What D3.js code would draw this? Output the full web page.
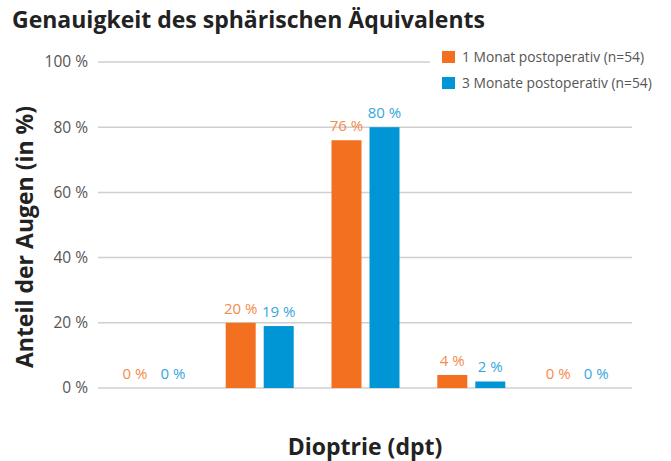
<!DOCTYPE html>
<html>
<head>
<meta charset="utf-8">
<script src="https://d3js.org/d3.v7.min.js"></script>
<style>
  body { margin: 0; background: #fff; }
  #chart text { font-family: 'Open Sans', sans-serif; }
  .grid line { stroke: #cfcfcf; stroke-width: 1.5; }
  .y.axis text { fill: #555; font-size: 15.5px; }
  .axis-title { font-weight: bold; fill: #222; font-size: 23px; }
  .title { font-weight: bold; fill: #222; font-size: 23px; }
  .legend text { fill: #555; font-size: 13.8px; }
  .value { font-size: 15px; }
</style>
</head>
<body>
<div id="chart"></div>
<script>
// categories (no tick labels are shown in the chart)
var categories = ["k1", "k2", "k3", "k4", "k5"];
var seriesNames = ["1 Monat postoperativ (n=54)", "3 Monate postoperativ (n=54)"];
var monat1 = [0, 20, 76, 4, 0];
var monate3 = [0, 19, 80, 2, 0];
var yTicks = [0, 20, 40, 60, 80, 100];

var colors = ["#f37021", "#0096d6"];
var labelColors = ["#f58a4b", "#35a7de"];

var width = 671, height = 461;

var svg = d3.select("#chart").append("svg")
  .attr("width", width)
  .attr("height", height);

var x0 = d3.scaleBand().domain(categories).range([101, 630]);
var x1 = d3.scaleBand().domain([0, 1]).range([0, 68]).paddingInner(8 / 38);
var y = d3.scaleLinear().domain([0, 100]).range([388, 62]);

// title
svg.append("text").attr("class", "title")
  .attr("x", 12).attr("y", 28)
  .text("Genauigkeit des sphärischen Äquivalents");

// grid + y labels
var yAxis = svg.append("g").attr("class", "y axis");
yAxis.selectAll("g").data(yTicks).enter().append("g")
  .attr("class", "grid")
  .each(function(d) {
    var g = d3.select(this);
    g.append("line")
      .attr("x1", 98).attr("x2", 632)
      .attr("y1", y(d)).attr("y2", y(d));
    g.append("text")
      .attr("x", 88).attr("y", y(d))
      .attr("dy", "0.35em")
      .attr("text-anchor", "end")
      .text(d + " %");
  });

// bars
var data = categories.map(function(c, i) {
  return { cat: c, values: [monat1[i], monate3[i]] };
});

var groups = svg.selectAll(".group").data(data).enter().append("g")
  .attr("class", "group")
  .attr("transform", function(d) {
    return "translate(" + (x0(d.cat) + x0.bandwidth() / 2 - 34) + ",0)";
  });

groups.selectAll("rect").data(function(d) { return d.values; }).enter().append("rect")
  .attr("x", function(d, i) { return x1(i); })
  .attr("y", function(d) { return y(d); })
  .attr("width", x1.bandwidth())
  .attr("height", function(d) { return y(0) - y(d); })
  .attr("fill", function(d, i) { return colors[i]; });

groups.selectAll(".value").data(function(d) { return d.values; }).enter().append("text")
  .attr("class", "value")
  .attr("x", function(d, i) { return x1(i) + x1.bandwidth() / 2; })
  .attr("y", function(d) { return y(d) - 9; })
  .attr("text-anchor", "middle")
  .attr("fill", function(d, i) { return labelColors[i]; })
  .text(function(d) { return d + " %"; });

// legend
var legend = svg.append("g").attr("class", "legend");
legend.append("rect")
  .attr("x", 430).attr("y", 44).attr("width", 240).attr("height", 54)
  .attr("fill", "#fff");
seriesNames.forEach(function(name, i) {
  legend.append("rect")
    .attr("x", 442).attr("y", 51 + i * 26)
    .attr("width", 13).attr("height", 12)
    .attr("fill", colors[i]);
  legend.append("text")
    .attr("x", 462).attr("y", 62 + i * 26)
    .text(name);
});

// axis titles
svg.append("text").attr("class", "axis-title")
  .attr("transform", "translate(33,237) rotate(-90)")
  .attr("text-anchor", "middle")
  .text("Anteil der Augen (in %)");

svg.append("text").attr("class", "axis-title")
  .attr("x", 365).attr("y", 455)
  .attr("text-anchor", "middle")
  .text("Dioptrie (dpt)");
</script>
</body>
</html>
